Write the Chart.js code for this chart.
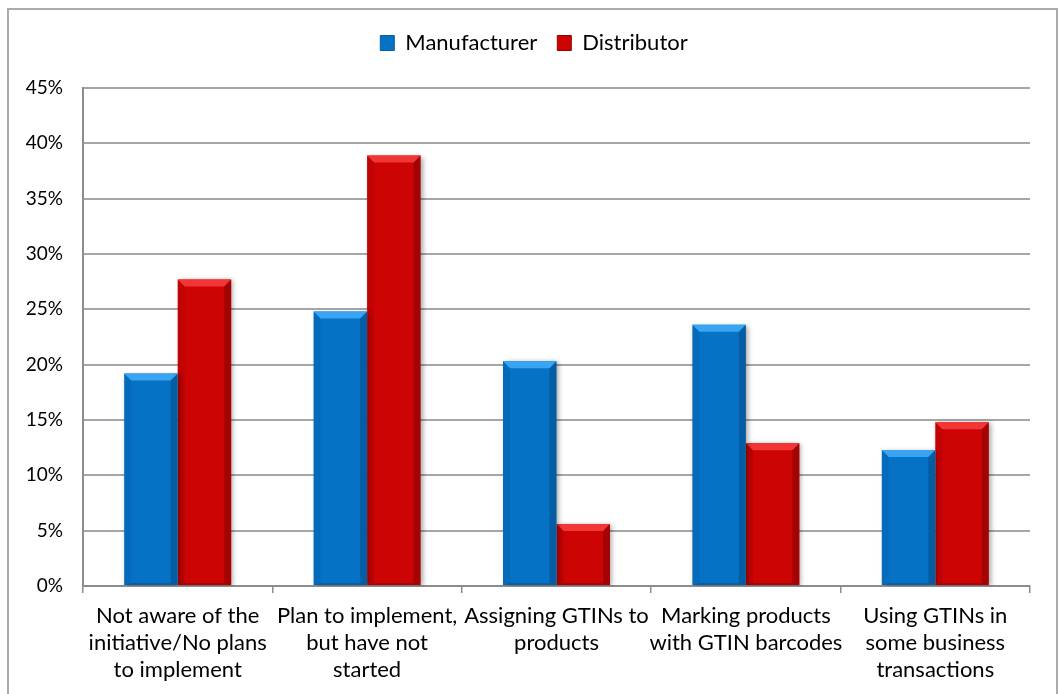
<!DOCTYPE html>
<html>
<head>
<meta charset="utf-8">
<script src="https://cdn.jsdelivr.net/npm/chart.js@4"></script>
<style>
  html, body { margin: 0; padding: 0; background: #fff; overflow: hidden; }
  #frame { position: absolute; left: 7px; top: 8px; width: 1047px; height: 700px; border: 2px solid #ababab; border-bottom: none; }
  #wrap { position: absolute; left: 0; top: 0; width: 1058px; height: 694px; }
</style>
</head>
<body>
<div id="frame"></div>
<div id="wrap"><canvas id="myChart" width="1058" height="694"></canvas></div>
<script>
var categories = [
  ["Not aware of the", "initiative/No plans", "to implement"],
  ["Plan to implement,", "but have not", "started"],
  ["Assigning GTINs to", "products"],
  ["Marking products", "with GTIN barcodes"],
  ["Using GTINs in", "some business", "transactions"]
];
var manufacturer = [19.2, 24.8, 20.3, 23.6, 12.3];
var distributor = [27.7, 38.9, 5.6, 12.9, 14.8];
var yTicks = [0, 5, 10, 15, 20, 25, 30, 35, 40, 45];

var fontName = "Lato, 'Open Sans', sans-serif";
var legendGap = 24;

// bevelled look on each bar: light top facet, shaded sides, soft shadow
var bevel = {
  id: "bevel",
  beforeLayout: function(chart) {
    // extra room between the legend and the plot
    var lg = chart.legend;
    if (lg && !lg._gapPatched) {
      var fit = lg.fit;
      lg.fit = function() { fit.call(this); this.height += legendGap; };
      lg._gapPatched = true;
    }
  },
  beforeDatasetDraw: function(chart, args) {
    var ctx = chart.ctx;
    ctx.save();
    ctx.shadowColor = "rgba(0,0,0,0.35)";
    ctx.shadowBlur = 5;
    ctx.shadowOffsetX = 2;
    ctx.shadowOffsetY = 1;
  },
  afterDatasetDraw: function(chart, args) {
    var ctx = chart.ctx;
    ctx.restore();
    var tones = args.index == 0
      ? {top: "#38a4f2", left: "rgba(0,0,0,0.06)", right: "rgba(0,0,0,0.18)", bottom: "rgba(0,0,0,0.15)"}
      : {top: "#f23636", left: "rgba(0,0,0,0.06)", right: "rgba(0,0,0,0.20)", bottom: "rgba(0,0,0,0.15)"};
    var b = 7;
    args.meta.data.forEach(function(bar) {
      var l = bar.x - bar.width / 2, r = bar.x + bar.width / 2, t = bar.y, btm = bar.base;
      ctx.save();
      ctx.fillStyle = tones.top;
      ctx.beginPath();
      ctx.moveTo(l, t); ctx.lineTo(r, t); ctx.lineTo(r - b, t + b); ctx.lineTo(l + b, t + b); ctx.closePath();
      ctx.fill();
      ctx.fillStyle = tones.left;
      ctx.beginPath();
      ctx.moveTo(l, t); ctx.lineTo(l + b, t + b); ctx.lineTo(l + b, btm - 2); ctx.lineTo(l, btm); ctx.closePath();
      ctx.fill();
      ctx.fillStyle = tones.right;
      ctx.beginPath();
      ctx.moveTo(r, t); ctx.lineTo(r - b, t + b); ctx.lineTo(r - b, btm - 2); ctx.lineTo(r, btm); ctx.closePath();
      ctx.fill();
      ctx.fillStyle = tones.bottom;
      ctx.beginPath();
      ctx.moveTo(l, btm); ctx.lineTo(l + b, btm - 2); ctx.lineTo(r - b, btm - 2); ctx.lineTo(r, btm); ctx.closePath();
      ctx.fill();
      ctx.restore();
    });
  }
};

new Chart("myChart", {
  type: "bar",
  data: {
    labels: categories,
    datasets: [
      {label: "Manufacturer", data: manufacturer, backgroundColor: "#0572c6", borderColor: "#0a5a9c", borderWidth: 0},
      {label: "Distributor", data: distributor, backgroundColor: "#cc0404", borderColor: "#950000", borderWidth: 0}
    ]
  },
  options: {
    responsive: false,
    animation: false,
    categoryPercentage: 0.565,
    barPercentage: 1,
    layout: {padding: {top: 12, right: 0, left: 10, bottom: 2}},
    plugins: {
      legend: {
        display: true,
        labels: {
          font: {family: fontName, size: 22},
          color: "#000",
          boxWidth: 14,
          boxHeight: 15,
          padding: 20,
          generateLabels: function(chart) {
            var base = Chart.defaults.plugins.legend.labels.generateLabels(chart);
            base.forEach(function(it) { it.lineWidth = 1; });
            return base;
          }
        }
      },
      tooltip: {enabled: false}
    },
    scales: {
      x: {
        grid: {display: true, drawOnChartArea: false, offset: true, color: "#8c8c8c", lineWidth: 1.5, tickLength: 7},
        border: {color: "#8c8c8c", width: 2},
        ticks: {font: {family: fontName, size: 22, lineHeight: 1.23}, color: "#000", padding: 9, maxRotation: 0, autoSkip: false},
        afterFit: function(s) { s.height = 106; }
      },
      y: {
        min: 0,
        max: 45,
        afterBuildTicks: function(s) { s.ticks = yTicks.map(function(v) { return {value: v}; }); },
        grid: {color: "#a6a6a6", lineWidth: 2, drawTicks: false},
        border: {color: "#8c8c8c", width: 2},
        ticks: {font: {family: fontName, size: 19}, color: "#000", padding: 20, callback: function(v) { return v + "%"; }},
        afterFit: function(s) { s.width = 73; }
      },
      // empty strip on the right side of the plot
      yRight: {
        position: "right",
        min: 0,
        max: 45,
        grid: {display: false},
        border: {display: false},
        ticks: {display: false},
        afterFit: function(s) { s.width = 28; }
      }
    }
  },
  plugins: [bevel]
});
</script>
</body>
</html>
